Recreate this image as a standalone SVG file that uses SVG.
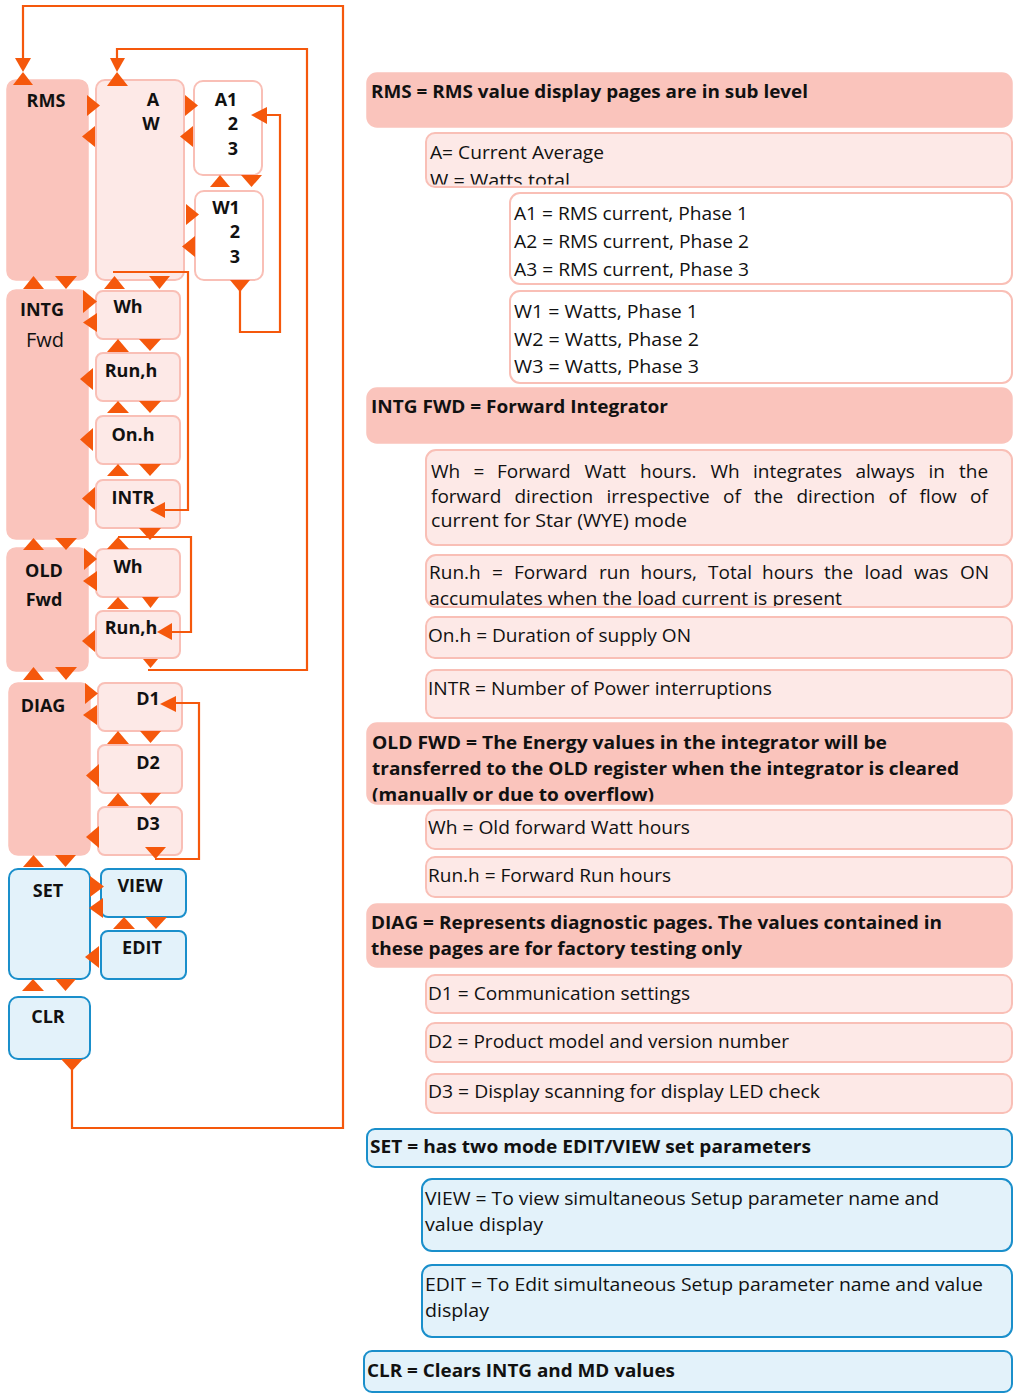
<svg xmlns="http://www.w3.org/2000/svg" width="1014" height="1394" viewBox="0 0 1014 1394">
<style>
.hdr{fill:#FAC4BC;stroke:#FAC4BC;stroke-width:1.5}
.lt{fill:#FDE9E7;stroke:#F9BFB6;stroke-width:2}
.wt{fill:#FFFFFF;stroke:#F9BFB6;stroke-width:2}
.bl{fill:#E3F2FA;stroke:#1A8FCB;stroke-width:2}
.ln{fill:none;stroke:#F5580C;stroke-width:2.2}
.ah{fill:#F5580C}
.lbl{font-family:"Open Sans","Noto Sans",sans-serif;font-size:18px;font-weight:bold;fill:#111;text-anchor:middle}
.lblr{font-family:"Open Sans","Noto Sans",sans-serif;font-size:20px;fill:#111;text-anchor:middle}
.t{font-family:"Open Sans","Noto Sans",sans-serif;font-size:19px;fill:#111}
.tb{font-family:"Open Sans","Noto Sans",sans-serif;font-size:18px;font-weight:bold;fill:#111}
</style>
<defs>
<clipPath id="cAW"><rect x="426" y="133" width="586" height="51.5"/></clipPath>
<clipPath id="cRun"><rect x="426" y="555" width="586" height="51"/></clipPath>
<clipPath id="cOld"><rect x="367" y="723" width="645" height="78.5"/></clipPath>
</defs>

<!-- Left side nodes -->
<g id="n-rms"><rect class="hdr" x="7" y="80" width="81" height="200" rx="9"/><text class="lbl" x="46" y="107">RMS</text></g>
<g id="n-aw"><rect class="lt" x="96" y="80" width="88" height="200" rx="9"/><text class="lbl" x="153" y="106">A</text><text class="lbl" x="151" y="130">W</text></g>
<g id="n-a123"><rect class="wt" x="194" y="81" width="68" height="94" rx="9"/><text class="lbl" x="226" y="106">A1</text><text class="lbl" x="233" y="130">2</text><text class="lbl" x="233" y="155">3</text></g>
<g id="n-w123"><rect class="wt" x="195" y="191" width="68" height="89" rx="9"/><text class="lbl" x="226" y="214">W1</text><text class="lbl" x="235" y="238">2</text><text class="lbl" x="235" y="263">3</text></g>

<g id="n-intg"><rect class="hdr" x="7" y="290" width="81" height="249" rx="9"/><text class="lbl" x="42" y="316">INTG</text><text class="lblr" x="45" y="347">Fwd</text></g>
<g id="n-intg-wh"><rect class="lt" x="96" y="291" width="84" height="48" rx="7"/><text class="lbl" x="128" y="313">Wh</text></g>
<g id="n-intg-run"><rect class="lt" x="96" y="353" width="84" height="48" rx="7"/><text class="lbl" x="131" y="377">Run,h</text></g>
<g id="n-intg-on"><rect class="lt" x="96" y="416" width="84" height="48" rx="7"/><text class="lbl" x="133" y="441">On.h</text></g>
<g id="n-intg-intr"><rect class="lt" x="96" y="480" width="84" height="48" rx="7"/><text class="lbl" x="133" y="504">INTR</text></g>

<g id="n-old"><rect class="hdr" x="7" y="548" width="81" height="123" rx="9"/><text class="lbl" x="44" y="577">OLD</text><text class="lbl" x="44" y="606">Fwd</text></g>
<g id="n-old-wh"><rect class="lt" x="96" y="549" width="84" height="48" rx="7"/><text class="lbl" x="128" y="573">Wh</text></g>
<g id="n-old-run"><rect class="lt" x="96" y="611" width="84" height="47" rx="7"/><text class="lbl" x="131" y="634">Run,h</text></g>

<g id="n-diag"><rect class="hdr" x="9" y="683" width="81" height="172" rx="9"/><text class="lbl" x="43" y="712">DIAG</text></g>
<g id="n-d1"><rect class="lt" x="98" y="683" width="84" height="48" rx="7"/><text class="lbl" x="148" y="705">D1</text></g>
<g id="n-d2"><rect class="lt" x="98" y="745" width="84" height="48" rx="7"/><text class="lbl" x="148" y="769">D2</text></g>
<g id="n-d3"><rect class="lt" x="98" y="807" width="84" height="48" rx="7"/><text class="lbl" x="148" y="830">D3</text></g>

<g id="n-set"><rect class="bl" x="9" y="869" width="81" height="110" rx="9"/><text class="lbl" x="48" y="897">SET</text></g>
<g id="n-view"><rect class="bl" x="101" y="869" width="85" height="48" rx="7"/><text class="lbl" x="140" y="892">VIEW</text></g>
<g id="n-edit"><rect class="bl" x="101" y="931" width="85" height="48" rx="7"/><text class="lbl" x="142" y="954">EDIT</text></g>
<g id="n-clr"><rect class="bl" x="9" y="997" width="81" height="62" rx="9"/><text class="lbl" x="48" y="1023">CLR</text></g>

<!-- Connectors -->
<g id="connectors">
<polyline class="ln" points="72,1068 72,1128 343,1128 343,6 23,6 23,60"/>
<polyline class="ln" points="148,670 307,670 307,49 117,49 117,60"/>
<polyline class="ln" points="240,290 240,332 280,332 280,115 265,115"/>
<polyline class="ln" points="113,272 188,272 188,510 163,510"/>
<polyline class="ln" points="118,537 191,537 191,632 170,632"/>
<polyline class="ln" points="155,859 199,859 199,703 174,703"/>
<g id="arrowheads" class="ah">
<polygon points="15,58 31,58 23,72"/><polygon points="13,85 33,85 23,72"/>
<polygon points="110,58 125,58 117,72"/><polygon points="107,86 128,86 117,72"/>
<polygon points="87,95 100,105.5 87,116"/><polygon points="95,126 82,136.5 95,147"/>
<polygon points="185,95 198,105.5 185,116"/><polygon points="193,126 180,136.5 193,147"/>
<polygon points="251,115 267,107 267,124"/>
<polygon points="210,187 220,175 230,187"/><polygon points="241,175 262,175 251.5,187"/>
<polygon points="186,204 199,214.5 186,225"/><polygon points="195,236 182,246.5 195,257"/>
<polygon points="230,280 250,280 240,292"/>
<polygon points="23,289 33.5,276 44,289"/><polygon points="55,276 77,276 66,289"/>
<polygon points="104,289 114.5,276 125,289"/><polygon points="149,276 170,276 159.5,289"/>
<polygon points="83,290 97,301.5 83,313"/><polygon points="97,313 83,322.5 97,332"/>
<polygon points="107,352 118,339 129,352"/><polygon points="139,339 161,339 150,351"/>
<polygon points="93,368 80,379 93,390"/>
<polygon points="107,413 118,401 129,413"/><polygon points="139,401 161,401 150,413"/>
<polygon points="93,428 80,439.5 93,451"/>
<polygon points="107,476 118,464 129,476"/><polygon points="139,464 161,464 150,476"/>
<polygon points="95,487 82,498.5 95,510"/>
<polygon points="150,510 165,502 165,518"/>
<polygon points="139,528 161,528 150,540"/>
<polygon points="23,550 33.5,538 44,550"/><polygon points="55,538 77,538 66,550"/>
<polygon points="107,549 118,537 129,549"/>
<polygon points="84,548 97,559 84,570"/><polygon points="97,571 83,581 97,591"/>
<polygon points="107,609 118,597 129,609"/><polygon points="142,597 159,597 150.5,608"/>
<polygon points="157,632 172,623 172,640"/>
<polygon points="95,630 82,641 95,652"/>
<polygon points="143,659 158,659 150.5,668"/>
<polygon points="23,680 33.5,667 44,680"/><polygon points="55,667 77,667 66,680"/>
<polygon points="85,683 98,693.5 85,704"/><polygon points="97,705 83,715 97,725"/>
<polygon points="160,704 176,696 176,712"/>
<polygon points="107,744 118,731 129,744"/><polygon points="140,731 161,731 150.5,743"/>
<polygon points="99,764 86,775.5 99,787"/>
<polygon points="107,806 118,793 129,806"/><polygon points="140,793 161,793 150.5,805"/>
<polygon points="99,826 86,837 99,848"/>
<polygon points="145,847 166,847 155.5,859"/>
<polygon points="23,867 33.5,855 44,867"/><polygon points="55,855 76,855 65.5,867"/>
<polygon points="90,876 104,886.5 90,897"/><polygon points="103,898 89,908 103,918"/>
<polygon points="113,929 124,917 135,929"/><polygon points="145,917 167,917 156,929"/>
<polygon points="99,946 85,957 99,968"/>
<polygon points="22,991 33,979 44,991"/><polygon points="55,979 76,979 65.5,991"/>
<polygon points="61,1059 83,1059 72,1071"/>
</g>
</g>

<!-- Right side legend -->
<g id="d-rms"><rect class="hdr" x="367" y="73" width="645" height="54" rx="10"/><text class="tb" x="371" y="98" textLength="437" lengthAdjust="spacingAndGlyphs">RMS = RMS value display pages are in sub level</text></g>
<g id="d-aw"><rect class="lt" x="426" y="133" width="586" height="54" rx="9"/>
<g clip-path="url(#cAW)"><text class="t" x="430" y="159" textLength="174" lengthAdjust="spacingAndGlyphs">A= Current Average</text><text class="t" x="430" y="186.5" textLength="140" lengthAdjust="spacingAndGlyphs">W = Watts total</text></g></g>
<g id="d-a123"><rect class="wt" x="510" y="193" width="502" height="91" rx="10"/>
<text class="t" x="514" y="220" textLength="234" lengthAdjust="spacingAndGlyphs">A1 = RMS current, Phase 1</text>
<text class="t" x="514" y="248" textLength="235" lengthAdjust="spacingAndGlyphs">A2 = RMS current, Phase 2</text>
<text class="t" x="514" y="276" textLength="235" lengthAdjust="spacingAndGlyphs">A3 = RMS current, Phase 3</text></g>
<g id="d-w123"><rect class="wt" x="510" y="291" width="502" height="92" rx="10"/>
<text class="t" x="514" y="318" textLength="184" lengthAdjust="spacingAndGlyphs">W1 = Watts, Phase 1</text>
<text class="t" x="514" y="346" textLength="185" lengthAdjust="spacingAndGlyphs">W2 = Watts, Phase 2</text>
<text class="t" x="514" y="373" textLength="185" lengthAdjust="spacingAndGlyphs">W3 = Watts, Phase 3</text></g>

<g id="d-intg"><rect class="hdr" x="367" y="388" width="645" height="55" rx="10"/><text class="tb" x="371" y="413" textLength="297" lengthAdjust="spacingAndGlyphs">INTG FWD = Forward Integrator</text></g>
<g id="d-intg-wh"><rect class="lt" x="426" y="450" width="586" height="95" rx="10"/>
<text class="t" y="478"><tspan x="431">Wh</tspan><tspan x="473.5">=</tspan><tspan x="497">Forward</tspan><tspan x="584.5">Watt</tspan><tspan x="640">hours.</tspan><tspan x="710.5">Wh</tspan><tspan x="753">integrates</tspan><tspan x="855.5">always</tspan><tspan x="928.5">in</tspan><tspan x="959">the</tspan></text>
<text class="t" y="503"><tspan x="431">forward</tspan><tspan x="514.5">direction</tspan><tspan x="606.5">irrespective</tspan><tspan x="723">of</tspan><tspan x="754">the</tspan><tspan x="796.5">direction</tspan><tspan x="888.5">of</tspan><tspan x="919.5">flow</tspan><tspan x="970">of</tspan></text>
<text class="t" x="431" y="527" textLength="256" lengthAdjust="spacingAndGlyphs">current for Star (WYE) mode</text></g>
<g id="d-intg-run"><rect class="lt" x="426" y="555" width="586" height="52" rx="10"/>
<g clip-path="url(#cRun)"><text class="t" y="579"><tspan x="429">Run.h</tspan><tspan x="492">=</tspan><tspan x="514">Forward</tspan><tspan x="599">run</tspan><tspan x="640.5">hours,</tspan><tspan x="708">Total</tspan><tspan x="762">hours</tspan><tspan x="824">the</tspan><tspan x="864.5">load</tspan><tspan x="914">was</tspan><tspan x="960">ON</tspan></text>
<text class="t" x="429" y="604.5" textLength="413" lengthAdjust="spacingAndGlyphs">accumulates when the load current is present</text></g></g>
<g id="d-intg-on"><rect class="lt" x="426" y="617" width="586" height="41" rx="9"/><text class="t" x="428" y="642" textLength="263" lengthAdjust="spacingAndGlyphs">On.h = Duration of supply ON</text></g>
<g id="d-intg-intr"><rect class="lt" x="426" y="670" width="586" height="48" rx="9"/><text class="t" x="428" y="695" textLength="344" lengthAdjust="spacingAndGlyphs">INTR = Number of Power interruptions</text></g>

<g id="d-old"><rect class="hdr" x="367" y="723" width="645" height="81" rx="10"/>
<g clip-path="url(#cOld)"><text class="tb" x="372" y="749" textLength="515" lengthAdjust="spacingAndGlyphs">OLD FWD = The Energy values in the integrator will be</text>
<text class="tb" x="372" y="775" textLength="587" lengthAdjust="spacingAndGlyphs">transferred to the OLD register when the integrator is cleared</text>
<text class="tb" x="372" y="801" textLength="282" lengthAdjust="spacingAndGlyphs">(manually or due to overflow)</text></g></g>
<g id="d-old-wh"><rect class="lt" x="426" y="810" width="586" height="39" rx="9"/><text class="t" x="428" y="834" textLength="262" lengthAdjust="spacingAndGlyphs">Wh = Old forward Watt hours</text></g>
<g id="d-old-run"><rect class="lt" x="426" y="857" width="586" height="40" rx="9"/><text class="t" x="428" y="882" textLength="243" lengthAdjust="spacingAndGlyphs">Run.h = Forward Run hours</text></g>

<g id="d-diag"><rect class="hdr" x="367" y="904" width="645" height="63" rx="10"/>
<text class="tb" x="371" y="929" textLength="571" lengthAdjust="spacingAndGlyphs">DIAG = Represents diagnostic pages. The values contained in</text>
<text class="tb" x="371" y="955" textLength="371" lengthAdjust="spacingAndGlyphs">these pages are for factory testing only</text></g>
<g id="d-d1"><rect class="lt" x="426" y="975" width="586" height="38" rx="9"/><text class="t" x="428" y="1000" textLength="262" lengthAdjust="spacingAndGlyphs">D1 = Communication settings</text></g>
<g id="d-d2"><rect class="lt" x="426" y="1023" width="586" height="39" rx="9"/><text class="t" x="428" y="1048" textLength="361" lengthAdjust="spacingAndGlyphs">D2 = Product model and version number</text></g>
<g id="d-d3"><rect class="lt" x="426" y="1074" width="586" height="39" rx="9"/><text class="t" x="428" y="1098" textLength="392" lengthAdjust="spacingAndGlyphs">D3 = Display scanning for display LED check</text></g>

<g id="d-set"><rect class="bl" x="367" y="1129" width="645" height="38" rx="8"/><text class="tb" x="370" y="1153" textLength="441" lengthAdjust="spacingAndGlyphs">SET = has two mode EDIT/VIEW set parameters</text></g>
<g id="d-view"><rect class="bl" x="422" y="1179" width="590" height="72" rx="10"/>
<text class="t" x="425" y="1205" textLength="514" lengthAdjust="spacingAndGlyphs">VIEW = To view simultaneous Setup parameter name and</text>
<text class="t" x="425" y="1231" textLength="118" lengthAdjust="spacingAndGlyphs">value display</text></g>
<g id="d-edit"><rect class="bl" x="422" y="1265" width="590" height="72" rx="10"/>
<text class="t" x="425" y="1291" textLength="558" lengthAdjust="spacingAndGlyphs">EDIT = To Edit simultaneous Setup parameter name and value</text>
<text class="t" x="425" y="1317" textLength="64" lengthAdjust="spacingAndGlyphs">display</text></g>
<g id="d-clr"><rect class="bl" x="364" y="1351" width="648" height="41" rx="8"/><text class="tb" x="367" y="1377" textLength="308" lengthAdjust="spacingAndGlyphs">CLR = Clears INTG and MD values</text></g>
</svg>
